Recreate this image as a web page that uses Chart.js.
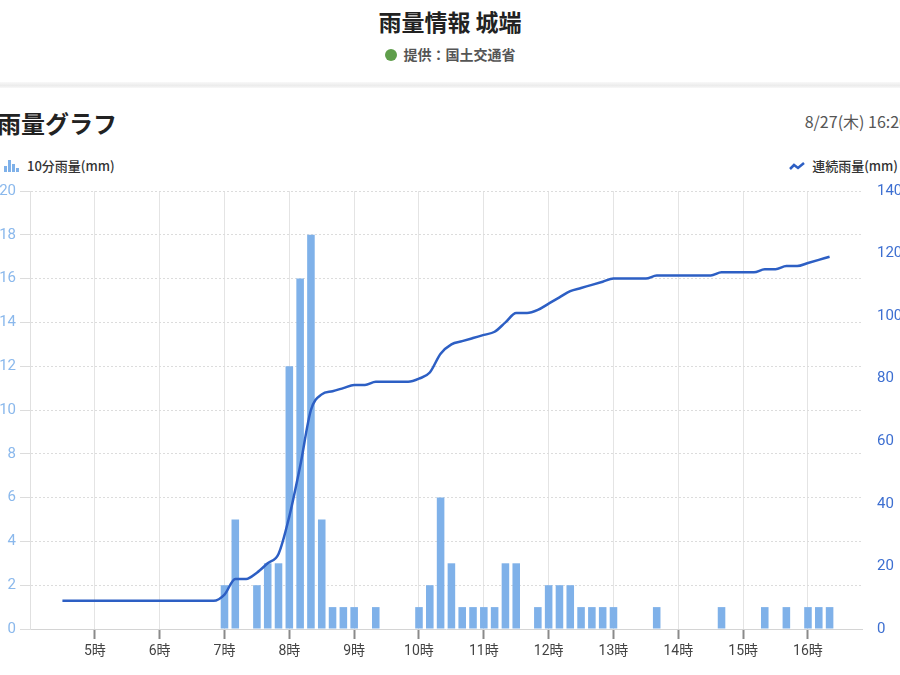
<!DOCTYPE html>
<html lang="ja">
<head>
<meta charset="utf-8">
<script src="https://cdn.jsdelivr.net/npm/chart.js@4.4.1/dist/chart.umd.min.js"></script>
<style>
  body { margin: 0; width: 900px; height: 675px; overflow: hidden; background: #fff;
         font-family: "Noto Sans CJK JP", "Noto Sans", sans-serif; position: relative; }
  .abs { position: absolute; }
  #title { top: 4px; left: 0; width: 900px; text-align: center; font-size: 23px; font-weight: bold; color: #222; }
  #source { top: 44px; left: 0; width: 900px; text-align: center; font-size: 14px; font-weight: bold; color: #555; }
  #source .dot { display: inline-block; width: 12px; height: 12px; border-radius: 50%; background: #5f9e4b;
                 vertical-align: -1px; margin-right: 7px; }
  #sep { top: 82px; left: 0; width: 900px; height: 6px;
         background: linear-gradient(#f8f8f8, #ececec 60%, #f8f8f8); }
  #head { top: 105px; left: -3px; font-size: 24px; font-weight: bold; color: #222; }
  #date { top: 109px; right: -8px; font-size: 16px; color: #555; }
  .leg { top: 156px; font-size: 13px; color: #333; font-weight: 500; }
  #legL { left: 4px; }
  #legR { right: 2px; }
  .bicon { display: inline-block; position: relative; width: 16px; height: 12px; vertical-align: -1px; margin-right: 7px; }
  .bicon span { position: absolute; bottom: 0; width: 3px; background: #7fb1e9; }
  #wrap { left: -10px; top: 167px; width: 920px; height: 508px; }
</style>
</head>
<body>
<div id="title" class="abs">雨量情報 城端</div>
<div id="source" class="abs"><span class="dot"></span>提供：国土交通省</div>
<div id="sep" class="abs"></div>
<div id="head" class="abs">雨量グラフ</div>
<div id="date" class="abs">8/27(木) 16:20</div>
<div id="legL" class="abs leg"><span class="bicon"><span style="left:0;height:6px"></span><span style="left:4px;height:12px"></span><span style="left:8px;height:8px"></span><span style="left:12px;height:4px"></span></span>10分雨量(mm)</div>
<div id="legR" class="abs leg"><svg width="16" height="10" style="vertical-align:0;margin-right:7px"><polyline points="1,8 5,4 9,7 15,2" fill="none" stroke="#2d5fc4" stroke-width="2.5"/></svg>連続雨量(mm)</div>
<div id="wrap" class="abs"><canvas id="rainChart"></canvas></div>

<script>
// 10分刻み 4:00〜16:50
const times = [
  '4:00','4:10','4:20','4:30','4:40','4:50',
  '5:00','5:10','5:20','5:30','5:40','5:50',
  '6:00','6:10','6:20','6:30','6:40','6:50',
  '7:00','7:10','7:20','7:30','7:40','7:50',
  '8:00','8:10','8:20','8:30','8:40','8:50',
  '9:00','9:10','9:20','9:30','9:40','9:50',
  '10:00','10:10','10:20','10:30','10:40','10:50',
  '11:00','11:10','11:20','11:30','11:40','11:50',
  '12:00','12:10','12:20','12:30','12:40','12:50',
  '13:00','13:10','13:20','13:30','13:40','13:50',
  '14:00','14:10','14:20','14:30','14:40','14:50',
  '15:00','15:10','15:20','15:30','15:40','15:50',
  '16:00','16:10','16:20','16:30','16:40','16:50'
];

// 10分雨量(mm)
const rain10 = [
  null,null,null,0,0,0,
  0,0,0,0,0,0,
  0,0,0,0,0,0,
  2,5,0,2,3,3,
  12,16,18,5,1,1,
  1,0,1,0,0,0,
  1,2,6,3,1,1,
  1,1,3,3,0,1,
  2,2,2,1,1,1,
  1,0,0,0,1,0,
  0,0,0,0,1,0,
  0,0,1,0,1,0,
  1,1,1,null,null,null
];

// 連続雨量(mm)
const rainTotal = [
  null,null,null,9,9,9,
  9,9,9,9,9,9,
  9,9,9,9,9,9,
  11,16,16,18,21,24,
  36,52,70,75,76,77,
  78,78,79,79,79,79,
  80,82,88,91,92,93,
  94,95,98,101,101,102,
  104,106,108,109,110,111,
  112,112,112,112,113,113,
  113,113,113,113,114,114,
  114,114,115,115,116,116,
  117,118,119,null,null,null
];

const leftTicks = { min: 0, max: 20, step: 2 };
const rightTicks = { min: 0, max: 140, step: 20 };

const isHour = i => times[i] && times[i].endsWith(':00');

new Chart(document.getElementById('rainChart'), {
  data: {
    labels: times,
    datasets: [
      {
        type: 'line',
        label: '連続雨量(mm)',
        data: rainTotal,
        yAxisID: 'y2',
        borderColor: '#2d5fc4',
        borderWidth: 2.5,
        pointRadius: 0,
        cubicInterpolationMode: 'monotone',
        order: 0
      },
      {
        type: 'bar',
        label: '10分雨量(mm)',
        data: rain10,
        yAxisID: 'y',
        backgroundColor: '#7fb1e9',
        barPercentage: 0.7,
        categoryPercentage: 1,
        order: 1
      }
    ]
  },
  options: {
    responsive: true,
    maintainAspectRatio: false,
    animation: false,
    plugins: { legend: { display: false }, tooltip: { enabled: false } },
    scales: {
      x: {
        offset: false,
        afterFit: s => { s.height = 46; },
        grid: {
          offset: false,
          color: c => isHour(c.index) ? '#e4e4e4' : 'rgba(0,0,0,0)',
          tickColor: c => (isHour(c.index) && c.index > 0) ? '#8a8a8a' : 'rgba(0,0,0,0)',
          tickLength: 10,
          tickWidth: 2
        },
        border: { display: true, color: '#d4d4d4' },
        ticks: {
          autoSkip: false,
          maxRotation: 0,
          padding: 4,
          color: '#444',
          font: { size: 14, family: 'Roboto, "Noto Sans CJK JP", sans-serif' },
          callback: (v, i) => (isHour(i) && i > 0) ? times[i].split(':')[0] + '時' : ''
        }
      },
      y: {
        position: 'left',
        min: leftTicks.min,
        max: leftTicks.max,
        afterFit: s => { s.width = 40; },
        grid: { color: '#dcdcdc', tickLength: 10 },
        border: { display: true, color: '#e0e0e0', dash: [2, 2] },
        ticks: {
          stepSize: leftTicks.step,
          padding: 4,
          color: '#8ab8ec',
          font: { size: 15, family: 'Roboto, sans-serif' }
        }
      },
      y2: {
        position: 'right',
        min: rightTicks.min,
        max: rightTicks.max,
        afterFit: s => { s.width = 48; },
        grid: { drawOnChartArea: false, drawTicks: false },
        border: { display: false },
        ticks: {
          stepSize: rightTicks.step,
          padding: 15,
          color: '#3d6fd1',
          font: { size: 15, family: 'Roboto, sans-serif' }
        }
      }
    }
  }
});
</script>
</body>
</html>
